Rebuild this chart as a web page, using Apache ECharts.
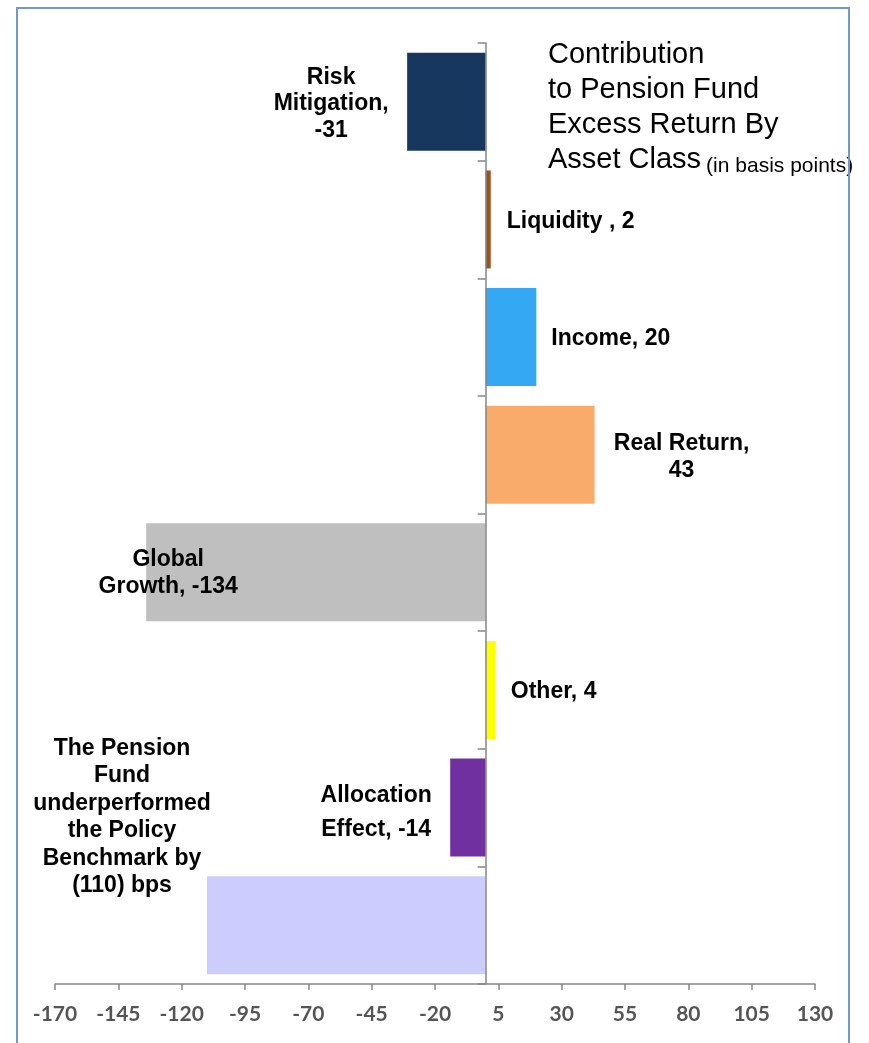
<!DOCTYPE html>
<html>
<head>
<meta charset="utf-8">
<script src="https://cdn.jsdelivr.net/npm/echarts@6/dist/echarts.min.js"></script>
<style>
  html, body { margin: 0; padding: 0; background: #fff; }
  #chart { width: 869px; height: 1043px; }
</style>
</head>
<body>
<div id="chart"></div>
<script>
// data (basis points)
var categories = ['Risk Mitigation', 'Liquidity', 'Income', 'Real Return', 'Global Growth', 'Other', 'Allocation Effect', 'Total'];
var values = [-31, 2, 20, 43, -134, 4, -14, -110];
var labelTexts = [
  'Risk\nMitigation,\n-31',
  'Liquidity , 2',
  'Income, 20',
  'Real Return,\n43',
  'Global\nGrowth, -134',
  'Other, 4',
  'Allocation\nEffect, -14',
  'The Pension\nFund\nunderperformed\nthe Policy\nBenchmark by\n(110) bps'
];
var xTicks = [-170, -145, -120, -95, -70, -45, -20, 5, 30, 55, 80, 105, 130];

var colors = ['#17375e', '#a0501a', '#35a8f4', '#f9ab6c', '#bfbfbf', '#ffff00', '#7030a0', '#ccccff'];
// where each data label sits
var labelPlace = [
  { position: 'left', distance: 76, align: 'center', offset: [0, 2], lineHeight: 26.5 },
  { position: 'right', distance: 16, align: 'left', offset: [0, 2], lineHeight: 26 },
  { position: 'right', distance: 15, align: 'left', offset: [0, 2], lineHeight: 26 },
  { position: 'right', distance: 87, align: 'center', offset: [0, 2], lineHeight: 27 },
  { position: 'insideLeft', distance: 22, align: 'center', offset: [0, 1], lineHeight: 27 },
  { position: 'right', distance: 15, align: 'left', offset: [0, 2], lineHeight: 26 },
  { position: 'left', distance: 74, align: 'center', offset: [0, 5], lineHeight: 34 },
  { position: 'left', distance: 85, align: 'center', offset: [0, -108], lineHeight: 27.5 }
];

var chartDom = document.getElementById('chart');
var myChart = echarts.init(chartDom, null, { renderer: 'canvas' });

var barData = values.map(function (v, i) {
  var p = labelPlace[i];
  return {
    value: v,
    itemStyle: { color: colors[i] },
    label: {
      show: true,
      position: p.position,
      distance: p.distance,
      align: p.align,
      offset: p.offset,
      lineHeight: p.lineHeight,
      formatter: labelTexts[i]
    }
  };
});

var option = {
  animation: false,
  backgroundColor: '#ffffff',
  textStyle: { fontFamily: '"Liberation Sans", Arial, sans-serif' },
  title: {
    left: 548,
    top: 37,
    padding: 0,
    text: '{a|Contribution}\n{a|to Pension Fund}\n{a|Excess Return By}\n{a|Asset Class} {b|(in basis points)}',
    textStyle: {
      fontWeight: 'normal',
      rich: {
        a: { fontSize: 29, lineHeight: 35, color: '#000', fontWeight: 'normal', fontFamily: '"Liberation Sans", Arial, sans-serif' },
        b: { fontSize: 21, lineHeight: 30, color: '#000', fontWeight: 'normal', fontFamily: '"Liberation Sans", Arial, sans-serif', verticalAlign: 'bottom' }
      }
    }
  },
  graphic: [
    {
      type: 'rect',
      silent: true,
      z: 100,
      shape: { x: 17, y: 8, width: 832, height: 1060 },
      style: { fill: 'none', stroke: '#7296d0', lineWidth: 2 }
    }
  ],
  grid: { left: 55, right: 54, top: 43, bottom: 59, containLabel: false },
  xAxis: {
    type: 'value',
    min: -170,
    max: 130,
    splitLine: { show: false },
    axisLine: { show: true, lineStyle: { color: '#868686', width: 1.5 } },
    axisTick: { show: true, length: 6, customValues: xTicks, lineStyle: { color: '#868686', width: 1.5 } },
    axisLabel: {
      customValues: xTicks,
      margin: 20,
      color: '#555555',
      fontSize: 21,
      fontWeight: 'bold',
      fontFamily: 'Lato, "Liberation Sans", sans-serif'
    }
  },
  yAxis: {
    type: 'category',
    inverse: true,
    data: categories,
    z: 5,
    axisLine: { show: true, onZero: true, lineStyle: { color: '#868686', width: 1.5 } },
    axisTick: { show: true, length: 8, lineStyle: { color: '#868686', width: 1.5 } },
    axisLabel: { show: false },
    splitLine: { show: false }
  },
  series: [
    {
      type: 'bar',
      barWidth: 98,
      data: barData,
      label: {
        color: '#000',
        fontSize: 23,
        fontWeight: 'bold',
        fontFamily: '"Liberation Sans", Arial, sans-serif'
      }
    }
  ]
};

if (option && typeof option === 'object') {
  myChart.setOption(option);
}

window.addEventListener('resize', myChart.resize);
</script>
</body>
</html>
